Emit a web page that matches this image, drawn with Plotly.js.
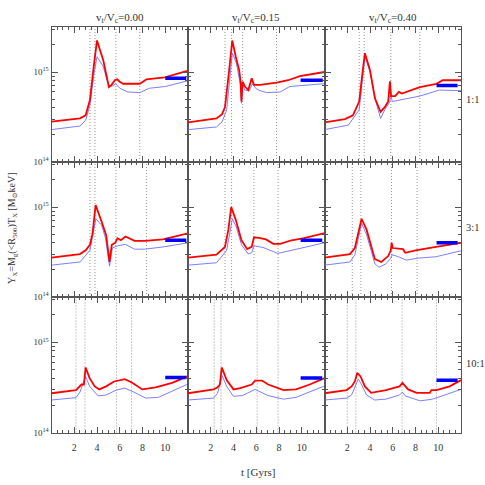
<!DOCTYPE html>
<html>
<head>
<meta charset="utf-8">
<script src="https://cdn.plot.ly/plotly-3.0.1.min.js"></script>
<style>
  html, body { margin: 0; padding: 0; background: #fff; }
  #plot { width: 485px; height: 485px; }
</style>
</head>
<body>
<div id="plot"></div>
<script>
// Y_X in units of 1e14 Msun keV, t in Gyr
// columns: vt/Vc = 0.00, 0.15, 0.40 ; rows: 1:1, 3:1, 10:1
var colTitles = ["v<sub>t</sub>/V<sub>c</sub>=0.00", "v<sub>t</sub>/V<sub>c</sub>=0.15", "v<sub>t</sub>/V<sub>c</sub>=0.40"];
var rowLabels = ["1:1", "3:1", "10:1"];
var xTicks = [2, 4, 6, 8, 10];

// ---- 1:1 ----
var tRed_r1_v0 = [0, 2.5, 3.0, 3.38, 3.7, 4.0, 4.55, 5.05, 5.28, 5.57, 5.78, 6.0, 6.3, 7.76, 8.35, 9.96, 11.86, 12];
var red_r1_v0 = [2.81, 3.05, 3.3, 4.9, 11.2, 22.4, 13.5, 6.8, 7.2, 8.1, 8.3, 7.8, 7.4, 7.4, 8.3, 8.7, 10.2, 10.3];
var tBlue_r1_v0 = [0, 2.5, 3.0, 3.38, 3.7, 4.0, 4.55, 5.0, 5.28, 5.65, 6.0, 6.7, 7.76, 8.6, 10.0, 11.9, 12];
var blue_r1_v0 = [2.29, 2.51, 2.9, 4.27, 8.9, 14.8, 11.5, 7.2, 6.9, 7.4, 6.6, 6.0, 5.9, 6.6, 6.9, 7.9, 8.0];

var tRed_r1_v15 = [0, 2.5, 3.0, 3.25, 3.6, 3.89, 4.2, 4.5, 4.62, 4.7, 4.8, 5.0, 5.3, 5.6, 5.8, 6.35, 7.8, 8.8, 9.84, 11.9, 12];
var red_r1_v15 = [2.75, 3.05, 3.4, 4.07, 10, 22.4, 14.8, 10.5, 7.9, 4.7, 7.8, 6.9, 6.3, 8.5, 7.2, 7.2, 7.6, 8.1, 9.0, 10.0, 10.0];
var tBlue_r1_v15 = [0, 2.5, 3.0, 3.4, 3.65, 3.9, 4.25, 4.5, 4.62, 4.7, 4.8, 5.0, 5.4, 5.65, 6.0, 6.35, 6.9, 8.1, 8.95, 11.9, 12];
var blue_r1_v15 = [2.29, 2.45, 2.8, 3.8, 7.9, 16.2, 12.6, 8.5, 7.1, 4.5, 7.2, 6.3, 6.2, 7.4, 6.5, 6.2, 5.9, 6.0, 6.9, 7.4, 7.4];

var tRed_r1_v40 = [0, 1.8, 2.5, 3.05, 3.3, 3.55, 4.0, 4.43, 4.93, 5.3, 5.6, 5.75, 5.85, 6.2, 6.54, 6.8, 8.38, 9.84, 10.4, 11.7, 12];
var red_r1_v40 = [2.75, 3.0, 3.3, 4.7, 8.9, 16.2, 10.5, 5.1, 3.6, 4.07, 4.7, 7.9, 5.4, 5.4, 6.0, 5.75, 6.8, 7.4, 8.1, 8.1, 8.1];
var tBlue_r1_v40 = [0, 2.1, 3.05, 3.3, 3.55, 4.0, 4.6, 4.93, 5.3, 5.75, 5.8, 5.95, 6.6, 8.38, 10.1, 11.7, 12];
var blue_r1_v40 = [2.29, 2.57, 3.8, 7.9, 15.1, 10, 4.27, 3.05, 3.8, 4.7, 5.9, 4.7, 4.9, 5.4, 6.3, 6.2, 6.2];

// ---- 3:1 ----
var tRed_r3_v0 = [0, 2.5, 3.0, 3.38, 3.6, 3.88, 4.4, 4.8, 5.1, 5.3, 5.6, 5.8, 6.1, 6.5, 7.3, 8.2, 9.8, 11.9, 12];
var red_r3_v0 = [2.74, 3.0, 3.3, 3.8, 5.0, 10.5, 6.9, 4.9, 2.45, 3.8, 4.0, 4.5, 4.27, 4.7, 4.2, 4.2, 4.37, 5.1, 5.1];
var tBlue_r3_v0 = [0, 2.5, 3.38, 3.6, 3.9, 4.4, 4.75, 5.1, 5.35, 5.8, 6.5, 7.3, 8.2, 9.8, 11.9, 12];
var blue_r3_v0 = [2.26, 2.45, 3.3, 4.5, 7.4, 6.3, 4.5, 2.2, 3.5, 3.7, 3.85, 3.4, 3.4, 3.6, 4.0, 4.0];

var tRed_r3_v15 = [0, 2.5, 3.25, 3.55, 3.8, 4.2, 4.7, 5.2, 5.6, 5.8, 6.35, 6.85, 7.5, 8.1, 9.1, 10.2, 11.9, 12];
var red_r3_v15 = [2.74, 2.95, 3.6, 5.6, 10, 7.2, 4.27, 3.4, 3.6, 4.6, 4.5, 4.37, 3.9, 3.9, 4.27, 4.5, 5.1, 5.1];
var tBlue_r3_v15 = [0, 2.5, 3.4, 3.65, 3.9, 4.25, 4.7, 5.3, 5.6, 5.8, 6.6, 7.9, 9.1, 11.9, 12];
var blue_r3_v15 = [2.26, 2.4, 3.3, 5.0, 7.4, 6.0, 3.8, 3.0, 3.1, 3.7, 3.55, 3.05, 3.3, 4.0, 4.0];

var tRed_r3_v40 = [0, 2.24, 2.67, 2.95, 3.26, 3.7, 4.43, 5.0, 5.6, 5.83, 5.9, 6.0, 6.9, 7.1, 8.0, 9.8, 11.9, 12];
var red_r3_v40 = [2.74, 3.0, 3.5, 5.0, 7.4, 5.6, 2.63, 2.45, 2.85, 3.3, 4.0, 3.5, 3.4, 3.1, 3.3, 3.6, 4.0, 4.0];
var tBlue_r3_v40 = [0, 2.24, 2.67, 2.95, 3.26, 3.7, 4.43, 4.8, 5.4, 5.83, 5.95, 6.5, 7.2, 8.2, 9.8, 11.9, 12];
var blue_r3_v40 = [2.26, 2.45, 2.95, 4.17, 6.6, 4.9, 2.34, 2.14, 2.34, 2.7, 2.95, 2.8, 2.57, 2.7, 2.8, 3.24, 3.25];

// ---- 10:1 ----
var tRed_r10_v0 = [0, 2.15, 2.64, 2.85, 3.0, 3.35, 3.8, 4.2, 4.8, 5.5, 6.45, 7.1, 7.98, 9.15, 10.6, 11.9, 12];
var red_r10_v0 = [2.72, 2.95, 3.4, 3.4, 5.25, 4.0, 3.24, 3.0, 3.24, 3.67, 3.9, 3.55, 3.0, 3.16, 3.55, 4.17, 4.2];
var tBlue_r10_v0 = [0, 2.15, 2.5, 3.0, 3.35, 4.1, 4.8, 5.7, 6.45, 7.25, 8.28, 9.4, 11.9, 12];
var blue_r10_v0 = [2.29, 2.43, 2.8, 4.17, 3.24, 2.54, 2.6, 2.95, 3.1, 2.8, 2.4, 2.45, 3.4, 3.4];

var tRed_r10_v15 = [0, 2.25, 2.6, 2.8, 2.97, 3.4, 4.0, 4.6, 5.6, 5.9, 6.5, 7.05, 8.4, 9.5, 10.7, 11.9, 12];
var red_r10_v15 = [2.72, 3.0, 3.16, 3.4, 5.25, 3.8, 3.0, 3.1, 3.4, 3.76, 3.76, 3.4, 2.95, 3.0, 3.4, 4.0, 4.0];
var tBlue_r10_v15 = [0, 2.25, 2.6, 3.0, 3.4, 4.0, 4.8, 5.9, 6.4, 7.0, 8.4, 9.5, 11.9, 12];
var blue_r10_v15 = [2.29, 2.4, 2.72, 4.27, 3.24, 2.51, 2.57, 3.0, 2.8, 2.57, 2.34, 2.45, 3.24, 3.25];

var tRed_r10_v40 = [0, 1.95, 2.38, 2.67, 2.88, 3.17, 3.55, 4.1, 5.4, 6.6, 6.85, 7.35, 8.1, 9.25, 9.4, 9.84, 11.0, 11.9, 12];
var red_r10_v40 = [2.72, 2.95, 3.24, 3.67, 4.57, 4.17, 3.24, 2.75, 2.95, 3.24, 3.55, 3.0, 2.75, 2.75, 2.95, 2.95, 3.24, 3.76, 3.8];
var tBlue_r10_v40 = [0, 1.95, 2.38, 2.97, 3.2, 3.7, 4.4, 5.4, 6.6, 6.85, 7.1, 8.4, 9.5, 11.9, 12];
var blue_r10_v40 = [2.29, 2.4, 2.6, 3.9, 3.5, 2.6, 2.29, 2.34, 2.6, 2.8, 2.54, 2.24, 2.34, 3.0, 3.0];

// thick blue reference bars: start, end, value per panel (row-major)
var barStart = [10.0, 9.9, 9.85, 10.0, 9.9, 9.85, 10.0, 9.9, 9.85];
var barEnd = [11.85, 11.85, 11.7, 11.85, 11.8, 11.7, 11.85, 11.8, 11.7];
var barValue = [8.5, 8.1, 7.1, 4.27, 4.27, 4.0, 4.07, 4.0, 3.8];

// vertical dotted marks (Gyr) per panel (row-major)
var marks = [
  [3.38, 3.82, 5.66, 7.76], [3.25, 3.83, 4.8, 7.78], [3.05, 3.49, 5.83, 8.38],
  [3.38, 3.82, 5.66, 8.35], [3.25, 3.83, 5.79, 7.92], [2.44, 3.2, 5.89, 8.14],
  [2.15, 2.94, 5.72, 7.04], [2.3, 2.9, 6.08, 7.92], [2.0, 2.76, 6.82, 9.84]
];

var panels = [
  [tRed_r1_v0, red_r1_v0, tBlue_r1_v0, blue_r1_v0],
  [tRed_r1_v15, red_r1_v15, tBlue_r1_v15, blue_r1_v15],
  [tRed_r1_v40, red_r1_v40, tBlue_r1_v40, blue_r1_v40],
  [tRed_r3_v0, red_r3_v0, tBlue_r3_v0, blue_r3_v0],
  [tRed_r3_v15, red_r3_v15, tBlue_r3_v15, blue_r3_v15],
  [tRed_r3_v40, red_r3_v40, tBlue_r3_v40, blue_r3_v40],
  [tRed_r10_v0, red_r10_v0, tBlue_r10_v0, blue_r10_v0],
  [tRed_r10_v15, red_r10_v15, tBlue_r10_v15, blue_r10_v15],
  [tRed_r10_v40, red_r10_v40, tBlue_r10_v40, blue_r10_v40]
];

function scale(arr) { return arr.map(function (v) { return v * 1e14; }); }

var W = 485, H = 485;
var colX = [51.5, 188, 324.5, 461];
var rowY = [27, 162, 297, 432.5];
var font = "Liberation Serif, DejaVu Serif, serif";
var axisCol = "#555";

var data = [];
var shapes = [];
var layout = {
  width: W, height: H,
  margin: {l: 0, r: 0, t: 0, b: 0},
  showlegend: false,
  paper_bgcolor: "#fff", plot_bgcolor: "#fff",
  font: {family: font, size: 10, color: "#333"},
  annotations: []
};

var minorY = [];
[2, 3, 4, 5, 6, 7, 8, 9].forEach(function (m) { minorY.push(m * 1e14); });
minorY.push(2e15, 3e15);

for (var i = 0; i < 9; i++) {
  var row = Math.floor(i / 3), col = i % 3;
  var sfx = i === 0 ? "" : String(i + 1);
  var xa = "x" + sfx, ya = "y" + sfx;
  var p = panels[i];

  data.push({x: p[2], y: scale(p[3]), xaxis: xa, yaxis: ya, mode: "lines",
    line: {color: "#6f6fff", width: 0.9}, hoverinfo: "skip"});
  data.push({x: p[0], y: scale(p[1]), xaxis: xa, yaxis: ya, mode: "lines",
    line: {color: "#ff0000", width: 1.8}, hoverinfo: "skip"});
  data.push({x: [barStart[i], barEnd[i]], y: scale([barValue[i], barValue[i]]),
    xaxis: xa, yaxis: ya, mode: "lines", line: {color: "#0000ff", width: 3.5}, hoverinfo: "skip"});

  marks[i].forEach(function (t) {
    shapes.push({type: "line", xref: xa, yref: ya + " domain", x0: t, x1: t, y0: 0, y1: 1,
      line: {color: "#8a8a8a", width: 0.9, dash: "1px,2px"}, layer: "below"});
  });

  layout["xaxis" + sfx] = {
    domain: [colX[col] / W, colX[col + 1] / W],
    anchor: ya, range: [0, 12],
    tickmode: "array", tickvals: xTicks,
    showticklabels: row === 2,
    ticks: "inside", ticklen: 6, tickcolor: axisCol, tickwidth: 1,
    minor: {dtick: 0.5, tick0: 0, ticks: "inside", ticklen: 3, tickcolor: axisCol},
    showline: true, linecolor: axisCol, linewidth: 1, mirror: "allticks",
    showgrid: false, zeroline: false, ticklabelstandoff: 5,
    tickfont: {family: font, size: 10, color: "#333"}
  };
  layout["yaxis" + sfx] = {
    domain: [1 - rowY[row + 1] / H, 1 - rowY[row] / H],
    anchor: xa, type: "log", range: [14, 15.5],
    tickmode: "array", tickvals: [1e14, 1e15],
    ticktext: ["10<sup>14</sup>", "10<sup>15</sup>"],
    showticklabels: col === 0,
    ticks: "inside", ticklen: 6, tickcolor: axisCol, tickwidth: 1,
    minor: {tickmode: "array", tickvals: minorY, ticks: "inside", ticklen: 3, tickcolor: axisCol},
    showline: true, linecolor: axisCol, linewidth: 1, mirror: "allticks",
    showgrid: false, zeroline: false,
    tickfont: {family: font, size: 9, color: "#333"}
  };
}

layout.shapes = shapes;

for (var c = 0; c < 3; c++) {
  layout.annotations.push({text: colTitles[c], xref: "paper", yref: "paper",
    x: (colX[c] + colX[c + 1]) / 2 / W, y: 1 - 18 / H, showarrow: false,
    font: {family: font, size: 11, color: "#333"}, xanchor: "center", yanchor: "middle"});
}
var rowMid = [100, 227, 363];
for (var r = 0; r < 3; r++) {
  layout.annotations.push({text: rowLabels[r], xref: "paper", yref: "paper",
    x: 464 / W, y: 1 - rowMid[r] / H, showarrow: false,
    font: {family: font, size: 10.5, color: "#333"}, xanchor: "left", yanchor: "middle"});
}
layout.annotations.push({text: "t [Gyrs]", xref: "paper", yref: "paper",
  x: 258 / W, y: 1 - 472 / H, showarrow: false,
  font: {family: font, size: 11, color: "#333"}, xanchor: "center", yanchor: "middle"});
layout.annotations.push({text: "Y<sub>X</sub>=M<sub>g</sub>(&lt;R<sub>500</sub>)T<sub>X</sub> [M<sub>⊙</sub>keV]",
  xref: "paper", yref: "paper", x: 12 / W, y: 1 - 228 / H, showarrow: false, textangle: -90,
  font: {family: font, size: 10, color: "#333"}, xanchor: "center", yanchor: "middle"});

Plotly.newPlot("plot", data, layout, {staticPlot: true, displayModeBar: false});
</script>
</body>
</html>
